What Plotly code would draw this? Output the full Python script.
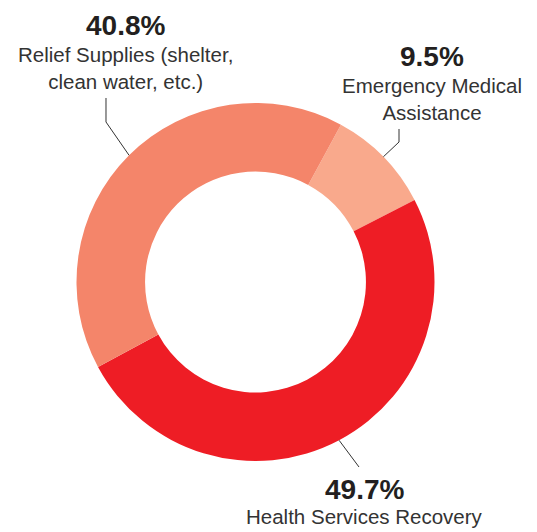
import math
import plotly.graph_objects as go

# ---- data ----
categories = ["Emergency Medical Assistance", "Health Services Recovery", "Relief Supplies (shelter, clean water, etc.)"]
label_lines = [["Emergency Medical", "Assistance"], ["Health Services Recovery"], ["Relief Supplies (shelter,", "clean water, etc.)"]]
values = [9.5, 49.7, 40.8]
colors = ["#F9A98C", "#EE1D25", "#F4856A"]

# ---- layout constants (pixels) ----
W, H = 537, 532
CX, CY, R = 255.5, 282.0, 179.0
HOLE = 0.617
ROTATION = 28.5
FONT = "Liberation Sans, Arial, Helvetica, sans-serif"

# label placement: (text center x, pct center y, label block center y, leader elbow/end points)
label_pos = [
    dict(x=431.5, pct_y=57, lab_y=99.5, path=[(399, 142), (399, 129)]),
    dict(x=364.0, pct_y=489, lab_y=516, path=[(359, 467)]),
    dict(x=125.0, pct_y=25.5, lab_y=68, path=[(106, 122), (106, 98)]),
]


def px(x):
    return x / W


def py(y):
    return 1 - y / H


fig = go.Figure()
fig.add_trace(go.Pie(
    labels=categories,
    values=values,
    hole=HOLE,
    sort=False,
    direction="clockwise",
    rotation=ROTATION,
    marker=dict(colors=colors, line=dict(width=0)),
    textinfo="none",
    hoverinfo="label+percent",
    showlegend=False,
    domain=dict(x=[px(CX - R), px(CX + R)], y=[py(CY + R), py(CY - R)]),
))

total = sum(values)
cum = 0.0
annotations = []
shapes = []
for v, lines, pos in zip(values, label_lines, label_pos):
    mid = ROTATION + (cum + v / 2) / total * 360.0
    cum += v
    t = math.radians(mid)
    sx, sy = CX + R * math.sin(t), CY - R * math.cos(t)
    pts = [(sx, sy)] + pos["path"]
    d = "M " + " L ".join(f"{px(x):.5f},{py(y):.5f}" for x, y in pts)
    shapes.append(dict(type="path", path=d, xref="paper", yref="paper",
                       line=dict(color="#333333", width=1)))
    annotations.append(dict(
        x=px(pos["x"]), y=py(pos["pct_y"]), xref="paper", yref="paper",
        text=f"<b>{v:.1f}%</b>", showarrow=False, xanchor="center", yanchor="middle",
        font=dict(family=FONT, size=28, color="#231F20")))
    annotations.append(dict(
        x=px(pos["x"]), y=py(pos["lab_y"]), xref="paper", yref="paper",
        text="<br>".join(lines), showarrow=False, xanchor="center", yanchor="middle",
        align="center",
        font=dict(family=FONT, size=20.5, color="#333333")))

fig.update_layout(
    width=W, height=H,
    margin=dict(l=0, r=0, t=0, b=0),
    paper_bgcolor="white", plot_bgcolor="white",
    annotations=annotations,
    shapes=shapes,
)

fig.write_html("out.html", config={"displayModeBar": False},
               post_script="document.body.style.margin='0';")
